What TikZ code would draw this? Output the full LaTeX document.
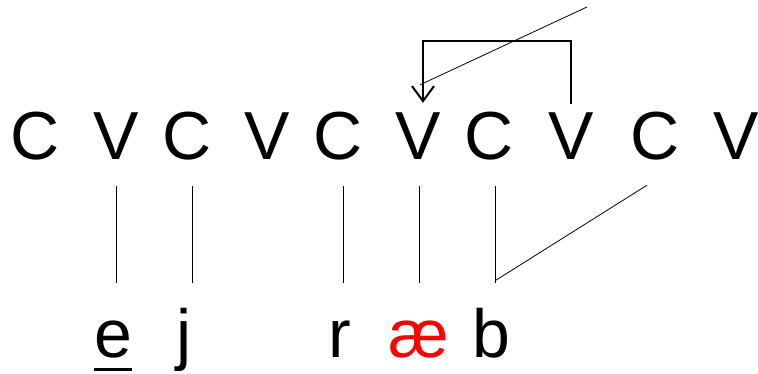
\documentclass[tikz,border=0pt]{standalone}
\usepackage{fontspec}
\setmainfont{Liberation Sans}
\usetikzlibrary{arrows.meta,calc}
\tikzset{
  seg/.style={anchor=base,inner sep=0pt,text height=49pt,text depth=0pt,font=\fontsize{68}{68}\selectfont},
  sound/.style={seg,text height=50pt},
  assoc/.style={line width=0.8pt},
  shift arrow/.style={line width=2pt,-{Straight Barb[length=15pt,width=22pt]}}
}
\newcommand{\undl}[1]{\vtop{\hbox{#1}\kern10pt\hrule height 3pt}}
\begin{document}
\begin{tikzpicture}[x=1pt,y=1pt,yscale=-1,xscale=1]
    \useasboundingbox (0,0) rectangle (758,374);

    % Text Node: skeleton
    \foreach \x/\s/\n in {35/C/c1,116/V/v2,187/C/c3,267/V/v4,338/C/c5,418/V/v6,489/C/c7,571/V/v8,655/C/c9,736/V/v10}
        \node[seg] (\n) at (\x,160) {\s};

    % Text Node: melody
    \node[sound] (e) at (113,357) {\undl{e}};
    \node[sound] (j) at (184,357) {j};
    \node[sound] (r) at (340,357) {r};
    \node[sound,text=red] (ae) at (419,357) {æ};
    \node[sound] (b) at (491,357) {b};

    %Straight Lines: association
    \draw[assoc] ($(v2.south)+(0,26)$) -- ($(v2.south |- e.north)+(0,-24)$);
    \draw[assoc] ($(c3.south)+(5,26)$) -- ($(c3.south |- j.north)+(5,-24)$);
    \draw[assoc] ($(c5.south)+(5,26)$) -- ($(c5.south |- r.north)+(5,-24)$);
    \draw[assoc] ($(v6.south)+(1,26)$) -- ($(v6.south |- ae.north)+(1,-24)$);
    \draw[assoc] ($(c7.south)+(6,26)$) -- ($(c7.south |- b.north)+(6,-24)$);
    \draw[assoc] ($(c9.south)+(-8,25)$) -- ($(b.north)+(4,-26)$);

    %Straight Lines: spreading
    \coordinate (spread) at (587,7);
    \draw[assoc] (spread) -- ($(v6.north)+(2,-26)$);

    %Straight Lines: arrow
    \draw[shift arrow] ($(v8.north)+(0,-7)$) |- ($(v6.north)+(5,-70)$) -- ($(v6.north)+(5,-8)$);

\end{tikzpicture}
\end{document}
